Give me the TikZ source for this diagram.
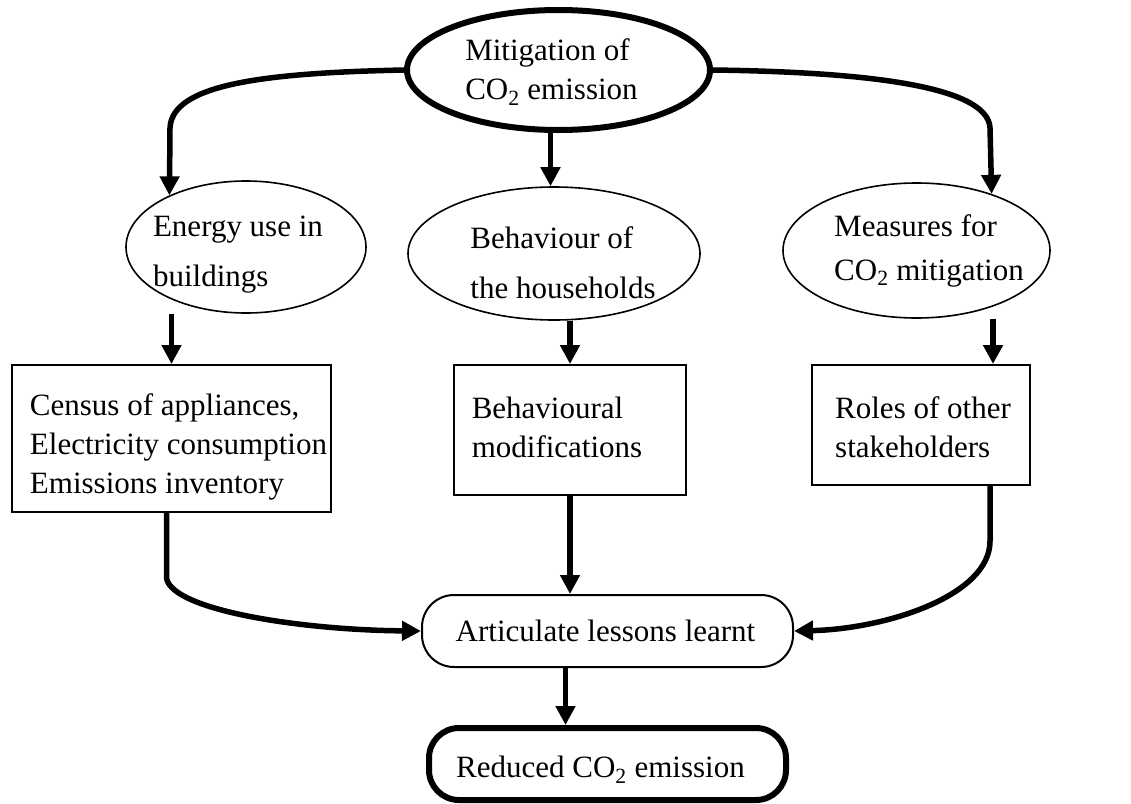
\documentclass[tikz,border=0pt]{standalone}
\usepackage{fontspec}
\setmainfont{Liberation Serif}
\usetikzlibrary{shapes.geometric,arrows.meta,calc}
\newcommand\diagfont{\fontsize{31}{39}\selectfont}
\begin{document}
\begin{tikzpicture}[x=1pt,y=-1pt,
  txt/.style={font=\diagfont, align=left, inner sep=0pt},
  ell/.style={draw, ellipse, inner sep=0pt, line width=1.6pt},
  thickell/.style={ell, line width=6pt},
  box/.style={draw, rectangle, inner sep=0pt, line width=2pt},
  pill/.style={box, rounded corners=32pt},
  thickpill/.style={box, rounded corners=30pt, line width=6pt},
  arr/.style={line width=5.5pt, -{Triangle[length=19pt,width=19pt]}},
]
\useasboundingbox (0,0) rectangle (1131,803);

% top ellipse
\node[thickell, minimum width=303, minimum height=120,
  label={[txt,xshift=-7pt,yshift=-2pt]center:{Mitigation of\\CO\textsubscript{2} emission}}]
  (top) at (558.5,70) {};

% second row ellipses
\node[ell, minimum width=240, minimum height=132,
  label={[txt,xshift=-8pt,yshift=-8pt]center:{Energy use in\\[11pt]buildings}}]
  (e1) at (246,247) {};
\node[ell, minimum width=292, minimum height=133,
  label={[txt,xshift=9pt,yshift=-9.5pt]center:{Behaviour of\\[11pt]the households}}]
  (e2) at (554,253.5) {};
\node[ell, minimum width=267, minimum height=135,
  label={[txt,xshift=12.5pt]center:{Measures for\\[5pt]CO\textsubscript{2} mitigation}}]
  (e3) at (916.5,250.5) {};

% boxes
\node[box, minimum width=319, minimum height=147,
  label={[txt,xshift=7pt,yshift=-8.5pt]center:{Census of appliances,\\Electricity consumption\\Emissions inventory}}]
  (b1) at (171.5,438.5) {};
\node[box, minimum width=232, minimum height=130,
  label={[txt,xshift=-13pt,yshift=2.5pt]center:{Behavioural\\modifications}}]
  (b2) at (570,430) {};
\node[box, minimum width=218, minimum height=120,
  label={[txt,xshift=2pt,yshift=-2.5pt]center:{Roles of other\\stakeholders}}]
  (b3) at (921,425) {};

% lessons and result
\node[pill, minimum width=371, minimum height=72,
  label={[txt,xshift=-2pt]center:{Articulate lessons learnt}}]
  (art) at (607.5,631) {};
\node[thickpill, minimum width=357, minimum height=72,
  label={[txt,xshift=-7pt,yshift=-6pt]center:{Reduced CO\textsubscript{2} emission}}]
  (red) at (607.5,764) {};

% connectors from the top ellipse
\draw[arr] (top.west) .. controls (260,73) and (172,85) .. (170,128) -- (e1.146.1);
\draw[arr] (top.east) .. controls (860,72) and (988,85) .. (990,128) -- (e3.37.5);
\draw[arr] ([xshift=-8pt]top.south) -- ([xshift=-8pt]e2.north -| top.south);

% ellipses to boxes
\draw[arr] (b1.north |- e1.south) -- (b1.north);
\draw[arr] (b2.north |- e2.south) -- (b2.north);
\draw[arr] ([xshift=72pt]b3.north |- e3.south) -- ([xshift=72pt]b3.north);

% boxes to lessons
\draw[arr] ([xshift=-5pt]b1.south) -- ++(0,65) .. controls +(5,32) and (300,630) .. (art.west);
\draw[arr] (b2.south) -- (b2.south |- art.north);
\draw[arr] ([xshift=69pt]b3.south) -- ++(0,55) .. controls +(0,55) and (885,629) .. (art.east);

% lessons to result
\draw[arr] ([xshift=-42pt]art.south) -- ([xshift=-42pt]art.south |- red.north);
\end{tikzpicture}
\end{document}
